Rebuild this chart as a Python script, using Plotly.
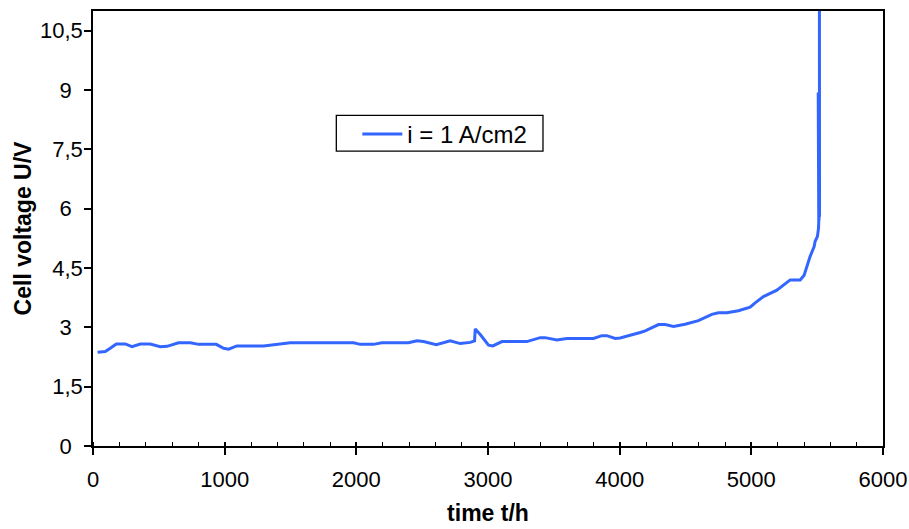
import plotly.graph_objects as go

# ---- data ----
time_h = [35, 93, 131, 177, 245, 296, 359, 435, 511, 562, 650, 739, 802, 936,
          992, 1030, 1093, 1296, 1498, 1979, 2030, 2131, 2194, 2396, 2460, 2510,
          2607, 2713, 2789, 2865, 2898, 2903, 2941, 3004, 3037, 3106, 3295, 3396,
          3434, 3523, 3599, 3801, 3865, 3903, 3966, 4004, 4156, 4194, 4295, 4346,
          4409, 4497, 4598, 4700, 4750, 4814, 4902, 4991, 5029, 5092, 5194, 5244,
          5295, 5371, 5401, 5446, 5477, 5484, 5502, 5510, 5512, 5508, 5514, 5516,
          5518, 5517]
voltage_v = [2.37, 2.39, 2.47, 2.58, 2.58, 2.51, 2.58, 2.58, 2.51, 2.52, 2.61, 2.61,
             2.57, 2.57, 2.47, 2.45, 2.53, 2.53, 2.61, 2.61, 2.57, 2.57, 2.61, 2.61,
             2.66, 2.64, 2.56, 2.66, 2.59, 2.62, 2.66, 2.96, 2.82, 2.55, 2.53, 2.64,
             2.64, 2.74, 2.74, 2.68, 2.72, 2.72, 2.79, 2.79, 2.72, 2.73, 2.87, 2.91,
             3.07, 3.07, 3.02, 3.08, 3.17, 3.33, 3.37, 3.37, 3.42, 3.51, 3.62, 3.78,
             3.94, 4.07, 4.20, 4.20, 4.32, 4.79, 5.04, 5.17, 5.30, 5.50, 5.67, 8.94,
             5.70, 8.94, 5.80, 11.5]
series_name = "i = 1 A/cm2"

y_tick_vals = [0, 1.5, 3, 4.5, 6, 7.5, 9, 10.5]
y_tick_text = ["0\u2002", "1,5", "3\u2002", "4,5", "6\u2002", "7,5", "9\u2002", "10,5"]
x_tick_vals = [0, 1000, 2000, 3000, 4000, 5000, 6000]

FONT = "Arial, Liberation Sans, sans-serif"
BLUE = "#3366FF"

fig = go.Figure()
fig.add_trace(go.Scatter(x=time_h, y=voltage_v, mode="lines", name=series_name,
                         line=dict(color=BLUE, width=3), cliponaxis=True))
# invisible helper trace for the inner half of the crossing major x ticks
fig.add_trace(go.Scatter(x=[0], y=[0], xaxis="x2", mode="markers",
                         marker=dict(opacity=0), showlegend=False, hoverinfo="skip"))

fig.update_layout(
    width=909, height=529,
    margin=dict(l=93, r=26, t=11, b=83, autoexpand=False),
    paper_bgcolor="white", plot_bgcolor="white",
    font=dict(family=FONT, size=22, color="black"),
    showlegend=True,
    legend=dict(x=0.3346, y=0.768, xanchor="left", yanchor="top",
                orientation="h", borderwidth=0, bgcolor="rgba(0,0,0,0)",
                font=dict(size=24, family=FONT), itemwidth=40,
                tracegroupgap=0),
    # frame of the legend box
    shapes=[dict(type="rect", xref="paper", yref="paper",
                 x0=0.308, x1=0.5696, y0=0.678, y1=0.760,
                 line=dict(color="black", width=1.3), fillcolor="white",
                 layer="below")],
    xaxis=dict(range=[0, 6000], tickvals=x_tick_vals, showgrid=False, zeroline=False,
               automargin=False,
               showline=True, linecolor="black", linewidth=1.5, mirror=True,
               ticks="outside", ticklen=7, tickwidth=1.5, tickcolor="black",
               minor=dict(dtick=200, ticks="inside", ticklen=4, tickwidth=1.3,
                          tickcolor="black", showgrid=False),
               ticklabelstandoff=6,
               title=dict(text="<b>time t/h</b>", font=dict(size=23), standoff=14)),
    xaxis2=dict(range=[0, 6000], overlaying="x", matches="x", anchor="y",
                automargin=False,
                tickvals=x_tick_vals, showticklabels=False, ticks="inside",
                ticklen=4, tickwidth=1.5, tickcolor="black", showgrid=False,
                zeroline=False, showline=False),
    yaxis=dict(range=[0, 11], tickvals=y_tick_vals, ticktext=y_tick_text,
               automargin=False,
               showgrid=False, zeroline=False, showline=True, linecolor="black",
               linewidth=1.5, mirror=True, ticks="outside", ticklen=7,
               tickwidth=1.5, tickcolor="black", ticklabelstandoff=-3,
               title=dict(text="<b>Cell voltage U/V</b>", font=dict(size=23),
                          standoff=2)),
)

fig.write_html(
    "out.html",
    config={"displayModeBar": False},
    post_script="document.body.style.margin='0px';"
                "document.body.style.overflow='hidden';"
                "document.documentElement.style.overflow='hidden';",
)
